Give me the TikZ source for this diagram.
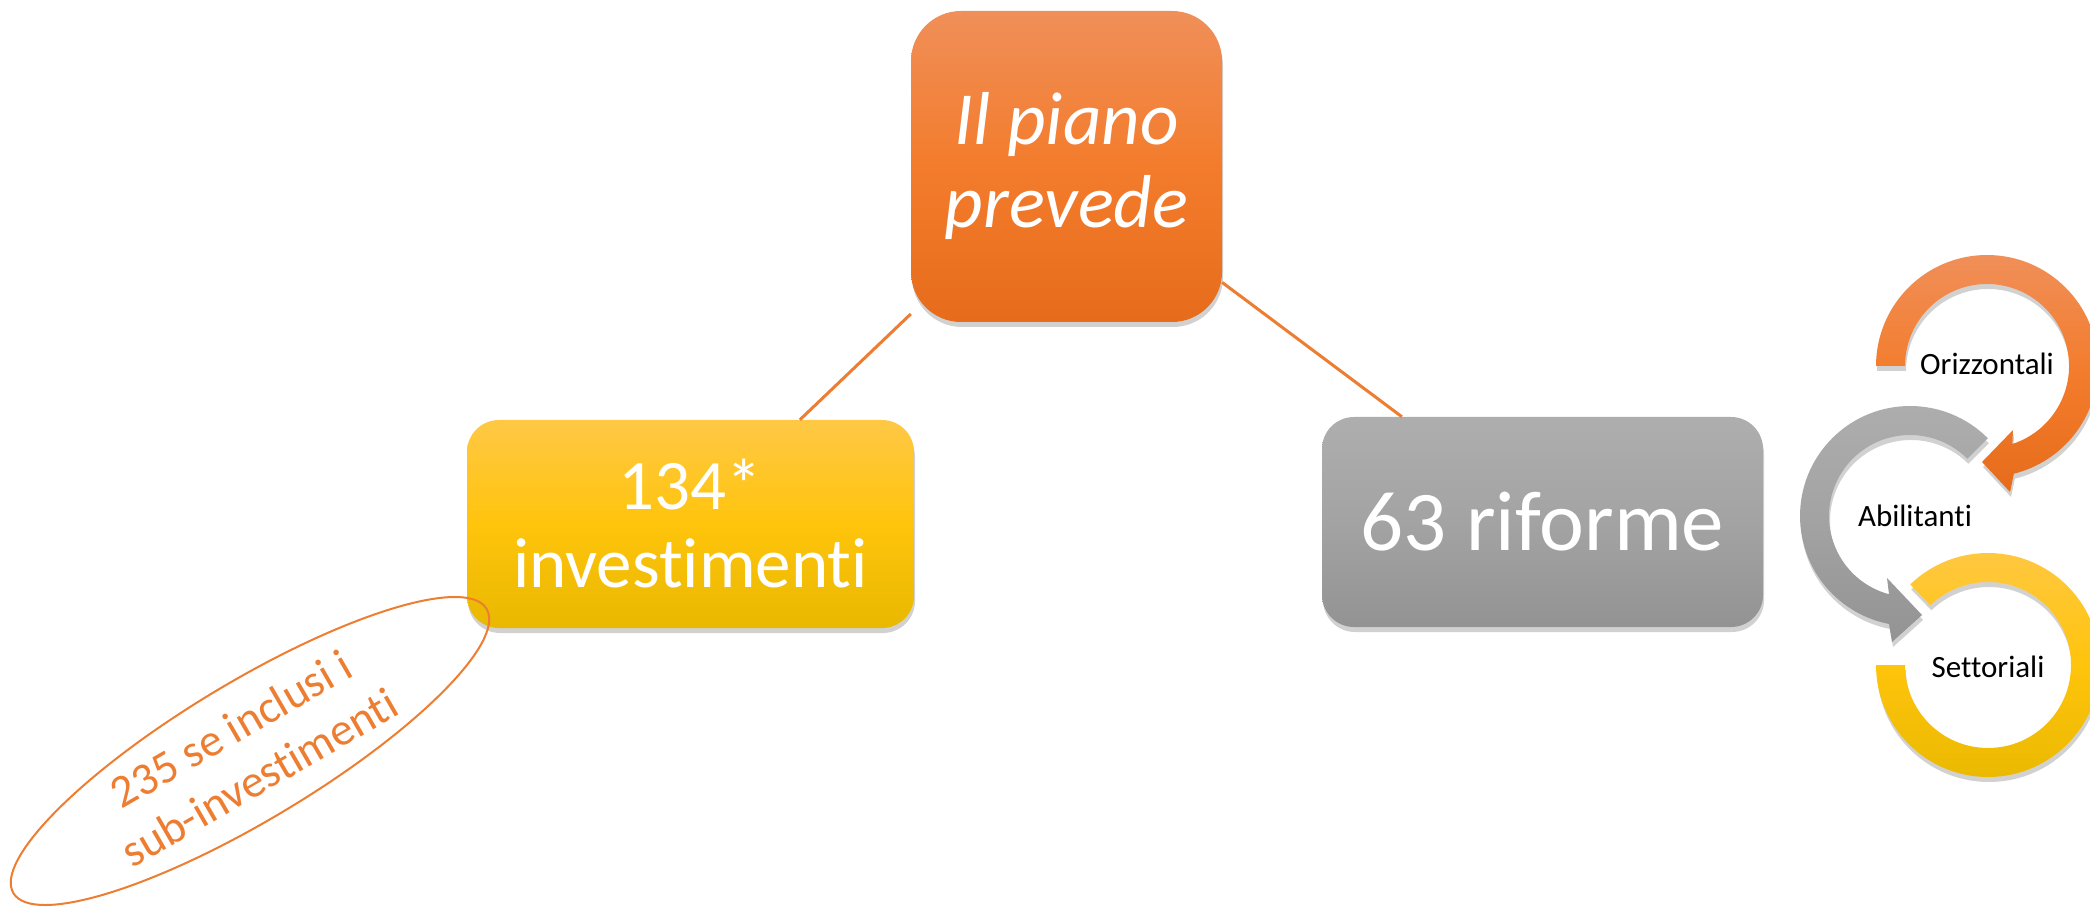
\documentclass[tikz,border=0pt]{standalone}
\usepackage{fontspec}
\setmainfont{Carlito}[Ligatures=CommonOff]
\usetikzlibrary{shapes.geometric,shadows,calc}
\definecolor{orA}{HTML}{F08F59}
\definecolor{orB}{HTML}{F37C2C}
\definecolor{orC}{HTML}{E66C1B}
\definecolor{yeA}{HTML}{FFC845}
\definecolor{yeB}{HTML}{FFC40C}
\definecolor{yeC}{HTML}{E9B800}
\definecolor{grA}{HTML}{AEAEAE}
\definecolor{grB}{HTML}{A3A3A3}
\definecolor{grC}{HTML}{939393}
\definecolor{lineor}{HTML}{ED7D31}
\begin{document}
\begin{tikzpicture}[x=1pt,y=1pt,
  sh/.style={drop shadow={shadow xshift=1pt,shadow yshift=-5pt,opacity=0.18,fill=black}},
  box/.style={sh, text=white, align=center, inner sep=0pt},
  conn/.style={draw=lineor, line width=3pt},
  lbl/.style={text=black, anchor=base, font=\fontsize{31}{36}\selectfont, inner sep=0pt},
  ringor/.style={sh, top color=orA, bottom color=orC, middle color=orB},
  ringgr/.style={sh, top color=grA, bottom color=grC, middle color=grB},
  ringye/.style={sh, top color=yeA, bottom color=yeC, middle color=yeB},
]
\useasboundingbox (0,0) rectangle (2090,906);
% main boxes
\node[box, rounded corners=50pt, minimum width=311pt, minimum height=311pt,
      top color=orA, bottom color=orC, middle color=orB,
      font=\fontsize{75}{83}\selectfont\itshape] (plan) at (1066.5,739.5) {Il piano\\prevede};
\node[box, rounded corners=32pt, minimum width=447pt, minimum height=208pt,
      top color=yeA, bottom color=yeC, middle color=yeB,
      font=\fontsize{71}{78}\selectfont] (inv) at (690.5,382) {134*\\investimenti};
\node[box, rounded corners=32pt, minimum width=441pt, minimum height=210pt,
      top color=grA, bottom color=grC, middle color=grB,
      font=\fontsize{85}{94}\selectfont] (ref) at (1542.5,384) {63 riforme};
% connectors
\draw[conn] (plan) -- (inv);
\draw[conn] (plan) -- (ref);
% note ellipse
\node[draw=lineor, line width=2pt, ellipse, minimum width=552pt, minimum height=138pt,
      rotate=31, inner sep=0pt] (note) at (250,155) {};
\node[rotate=30, text=lineor, align=center, inner sep=0pt,
      font=\fontsize{46}{56}\selectfont] (notetext) at (245,153) {235 se inclusi i\\sub-investimenti};
% cycle arrows
\path[ringor] (1876,540) arc[start angle=180,end angle=-76,radius=111]
   -- (2010,414) -- (1982,444) -- (2013,476)
   -- ($(1987,540)+(-72:82)$) arc[start angle=-72,end angle=180,radius=82] -- cycle;
\path[ringgr] ($(1910,390)+(45:110)$) arc[start angle=45,end angle=259,radius=110]
   -- (1892,264) -- (1922,291) -- (1887,328)
   -- ($(1910,390)+(255:81)$) arc[start angle=255,end angle=45,radius=81] -- cycle;
\path[ringye] ($(1988,241)+(134:112)$) arc[start angle=134,end angle=-180,radius=112]
   -- ($(1988,241)+(180:83)$) arc[start angle=-180,end angle=134,radius=83] -- cycle;
\node[lbl] (orz) at (1987,531) {Orizzontali};
\node[lbl] (abi) at (1915,380) {Abilitanti};
\node[lbl] (set) at (1988,229) {Settoriali};
\end{tikzpicture}
\end{document}
